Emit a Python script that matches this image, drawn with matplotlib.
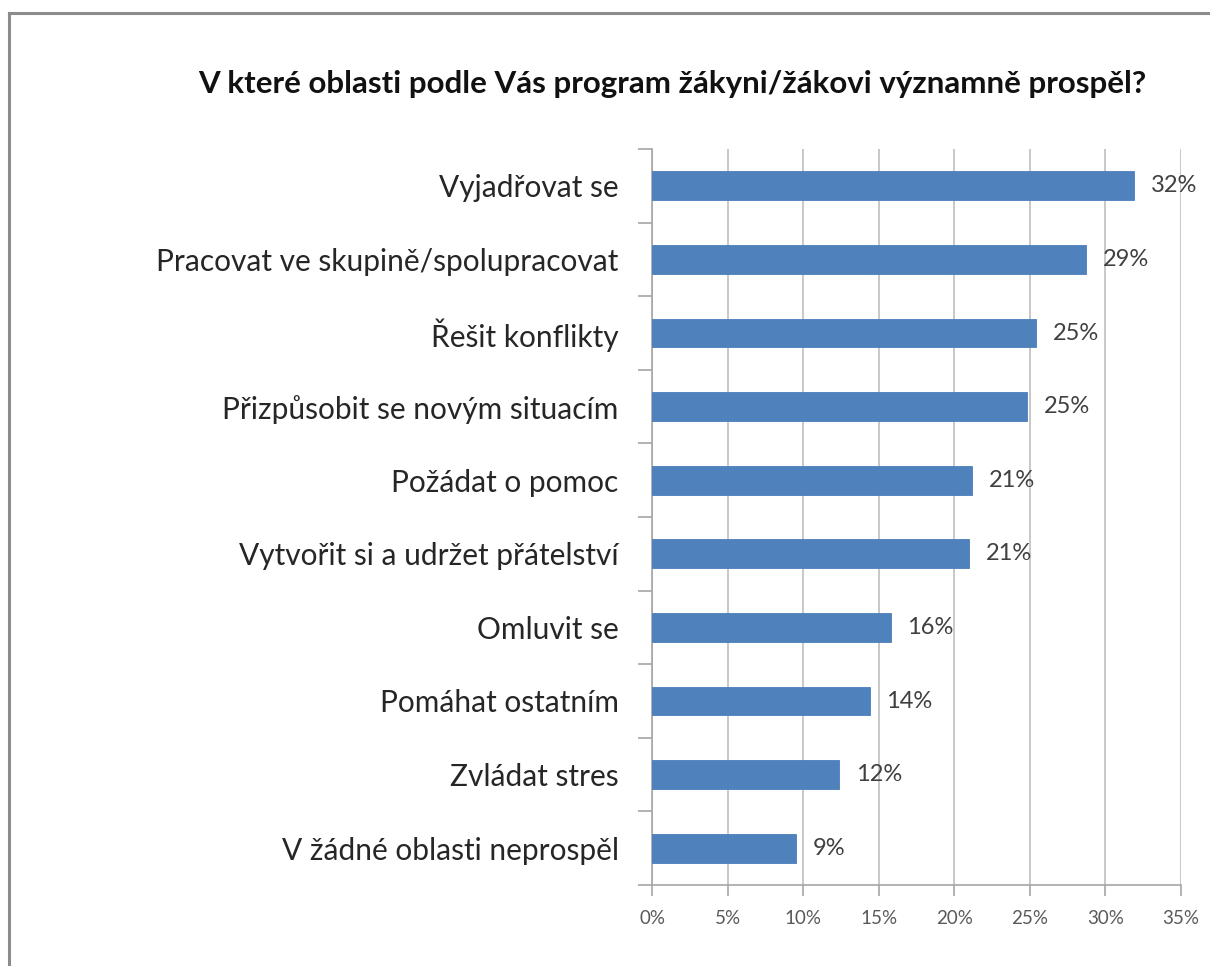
import matplotlib
matplotlib.use("Agg")
import matplotlib.pyplot as plt
from matplotlib.lines import Line2D
from matplotlib.ticker import FixedLocator, FuncFormatter

title = "V které oblasti podle Vás program žákyni/žákovi významně prospěl?"
categories = [
    "Vyjadřovat se",
    "Pracovat ve skupině/spolupracovat",
    "Řešit konflikty",
    "Přizpůsobit se novým situacím",
    "Požádat o pomoc",
    "Vytvořit si a udržet přátelství",
    "Omluvit se",
    "Pomáhat ostatním",
    "Zvládat stres",
    "V žádné oblasti neprospěl",
]
values = [31.9, 28.7, 25.4, 24.8, 21.2, 21.0, 15.8, 14.4, 12.4, 9.5]
labels = ["32%", "29%", "25%", "25%", "21%", "21%", "16%", "14%", "12%", "9%"]
xticks = [0, 5, 10, 15, 20, 25, 30, 35]

W, H = 1210, 966
fig = plt.figure(figsize=(W / 100, H / 100), dpi=100)
fig.patch.set_facecolor("white")

# axes box in pixels: left 652, right 1181, top 149, bottom 885
left, right, top, bottom = 652, 1181, 149, 885
ax = fig.add_axes([left / W, 1 - bottom / H, (right - left) / W, (bottom - top) / H])

n = len(categories)
ypos = list(range(n))
ax.barh(ypos, values, height=0.39, color="#4F81BD", edgecolor="#4A7EBB", linewidth=0.6, zorder=3)
ax.set_ylim(n - 0.5, -0.5)
ax.set_xlim(0, 35)

ax.xaxis.set_major_locator(FixedLocator(xticks))
ax.xaxis.set_major_formatter(FuncFormatter(lambda v, p: f"{int(round(v))}%"))
ax.grid(axis="x", color="#BFBFBF", linewidth=1.2, zorder=0)
ax.set_axisbelow(True)

ax.set_yticks(ypos)
ax.set_yticklabels(categories, fontsize=21.5, color="#262626", family=["Lato", "DejaVu Sans"])
ax.tick_params(axis="y", length=0, pad=24)
ax.set_yticks([i - 0.5 for i in range(n + 1)], minor=True)
ax.tick_params(axis="y", which="minor", length=10, width=1.2, color="#A6A6A6", direction="out")
ax.tick_params(axis="x", length=8, width=1.2, color="#A6A6A6", direction="out", pad=10,
               labelsize=13.5, labelcolor="#595959")
for lbl in ax.get_xticklabels():
    lbl.set_family(["Lato", "DejaVu Sans"])

for s in ["top", "right"]:
    ax.spines[s].set_visible(False)
for s in ["left", "bottom"]:
    ax.spines[s].set_color("#A6A6A6")
    ax.spines[s].set_linewidth(1.2)

for i, (v, t) in enumerate(zip(values, labels)):
    ax.annotate(t, xy=(v, i), xytext=(12, 0), textcoords="offset points",
                va="center", ha="left", fontsize=17, color="#404040",
                family=["Lato", "DejaVu Sans"])

fig.text(198 / W, 1 - 84 / H, title, ha="left", va="center", fontsize=22.5,
         fontweight="bold", color="#111111", family=["Lato", "DejaVu Sans"])

# frame lines
fig.add_artist(Line2D([9 / W, 9 / W], [1 - 13 / H, 0], color="#8C8C8C", linewidth=2.2))
fig.add_artist(Line2D([9 / W, 1], [1 - 13 / H, 1 - 13 / H], color="#8C8C8C", linewidth=2.2))

fig.savefig("out.png", dpi=100, facecolor="white")
